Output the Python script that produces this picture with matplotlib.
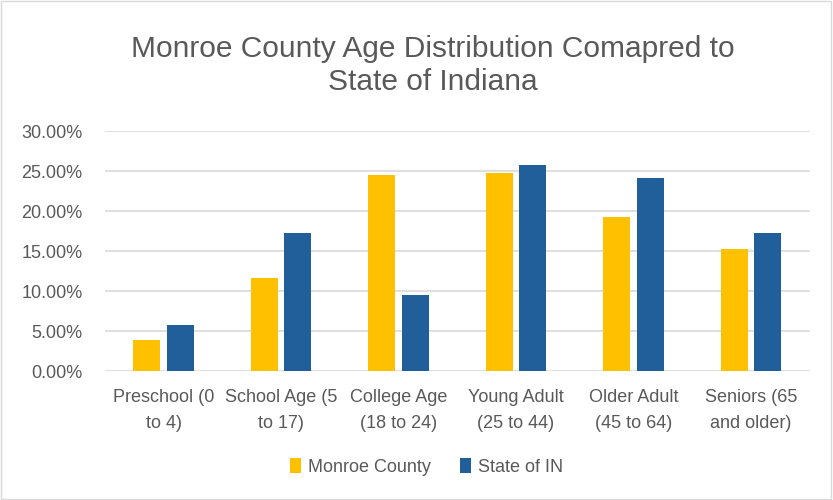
"""
Monroe County age distribution vs State of Indiana
"""
import matplotlib
matplotlib.use("Agg")
import matplotlib.pyplot as plt
import numpy as np
from matplotlib.patches import Rectangle
from matplotlib.ticker import FuncFormatter

categories = [
    "Preschool (0\nto 4)",
    "School Age (5\nto 17)",
    "College Age\n(18 to 24)",
    "Young Adult\n(25 to 44)",
    "Older Adult\n(45 to 64)",
    "Seniors (65\nand older)",
]
monroe = [3.9, 11.6, 24.5, 24.75, 19.3, 15.3]
state_in = [5.8, 17.2, 9.5, 25.8, 24.1, 17.2]
series_names = ["Monroe County", "State of IN"]
yticks = [0, 5, 10, 15, 20, 25, 30]

text_gray = "#595959"
plt.rcParams["font.family"] = ["Liberation Sans", "DejaVu Sans"]

fig = plt.figure(figsize=(8.33, 5.0), dpi=100)
ax = fig.add_axes([0.126, 0.258, 0.846, 0.48])

x = np.arange(len(categories))
w = 0.23
off = 0.143
ax.bar(x - off, monroe, w, color="#FFC000", label=series_names[0], zorder=3)
ax.bar(x + off, state_in, w, color="#215F9A", label=series_names[1], zorder=3)

ax.set_xlim(-0.5, len(categories) - 0.5)
ax.set_ylim(0, 30)
ax.set_yticks(yticks)
ax.yaxis.set_major_formatter(FuncFormatter(lambda v, p: f"{v:.2f}%"))
ax.set_xticks(x)
ax.set_xticklabels(categories, fontsize=13, color=text_gray, linespacing=1.65)
ax.tick_params(axis="y", length=0, pad=16, labelsize=13, labelcolor=text_gray)
ax.tick_params(axis="x", length=0, pad=13)
ax.grid(axis="y", color="#D9D9D9", linewidth=1.2, zorder=0)
for s in ax.spines.values():
    s.set_visible(False)

fig.text(0.519, 0.869, "Monroe County Age Distribution Comapred to\nState of Indiana",
         ha="center", va="center", fontsize=21.5, color=text_gray, linespacing=1.25)

ax.legend(loc="center", bbox_to_anchor=(0.512, 0.066), bbox_transform=fig.transFigure,
          ncol=2, frameon=False, fontsize=13, labelcolor=text_gray,
          handlelength=0.6, handleheight=0.9, handletextpad=0.4, columnspacing=1.6)

fig.patches.append(Rectangle((0.001, 0.002), 0.996, 0.996, transform=fig.transFigure,
                             fill=False, edgecolor="#D9D9D9", linewidth=1))

fig.savefig("out.png", dpi=100)
plt.close(fig)
